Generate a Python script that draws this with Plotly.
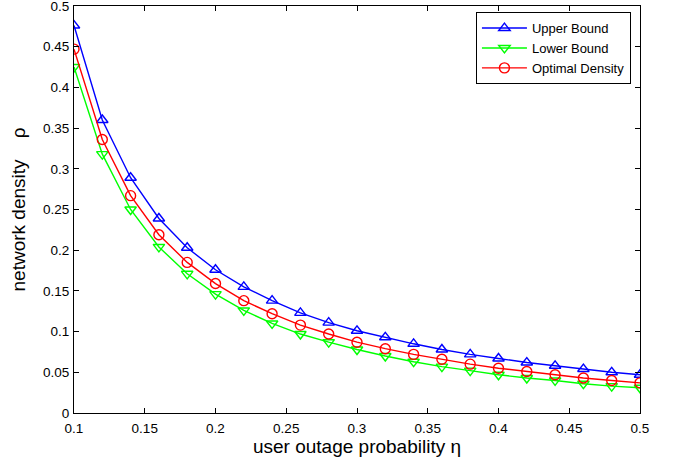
import plotly.graph_objects as go

# user outage probability (x axis)
eta = [0.10, 0.12, 0.14, 0.16, 0.18, 0.20, 0.22, 0.24, 0.26, 0.28, 0.30,
       0.32, 0.34, 0.36, 0.38, 0.40, 0.42, 0.44, 0.46, 0.48, 0.50]

upper_bound = [0.476, 0.360, 0.289, 0.239, 0.203, 0.176, 0.155, 0.138, 0.123, 0.111, 0.101,
               0.093, 0.085, 0.078, 0.072, 0.067, 0.062, 0.058, 0.054, 0.050, 0.047]
lower_bound = [0.425, 0.318, 0.250, 0.204, 0.171, 0.146, 0.126, 0.110, 0.097, 0.087, 0.078,
               0.070, 0.063, 0.057, 0.052, 0.047, 0.043, 0.040, 0.036, 0.033, 0.031]
optimal_density = [0.447, 0.336, 0.267, 0.219, 0.185, 0.159, 0.138, 0.122, 0.108, 0.097, 0.087,
                   0.079, 0.072, 0.066, 0.060, 0.055, 0.051, 0.047, 0.043, 0.040, 0.037]

x_ticks = [0.1, 0.15, 0.2, 0.25, 0.3, 0.35, 0.4, 0.45, 0.5]
y_ticks = [0, 0.05, 0.1, 0.15, 0.2, 0.25, 0.3, 0.35, 0.4, 0.45, 0.5]

FONT = "Liberation Sans, Arial, Helvetica, sans-serif"

series = [
    ("Upper Bound", upper_bound, "#0000ff", "triangle-up-open"),
    ("Lower Bound", lower_bound, "#00ff00", "triangle-down-open"),
    ("Optimal Density", optimal_density, "#ff0000", "circle-open"),
]

fig = go.Figure()
for name, vals, color, symbol in series:
    fig.add_trace(go.Scatter(
        x=eta, y=vals, name=name, mode="lines+markers",
        line=dict(color=color, width=1.4),
        marker=dict(symbol=symbol, size=10, color=color, line=dict(width=1.4, color=color)),
    ))

axis_common = dict(
    showgrid=False, zeroline=False, showline=True, linecolor="black", linewidth=1.2,
    mirror="ticks", ticks="inside", ticklen=5, tickcolor="black", tickwidth=1,
    tickfont=dict(family=FONT, size=13.5, color="black"),
    ticklabeloverflow="allow", automargin=False,
)

fig.update_layout(
    width=680, height=462,
    margin=dict(l=74, r=40, t=6, b=49, autoexpand=False),
    paper_bgcolor="white", plot_bgcolor="white",
    font=dict(family=FONT, color="black"),
    xaxis=dict(range=[0.1, 0.5], tickvals=x_ticks, ticktext=[f"{v:g}" for v in x_ticks],
               ticklabelstandoff=3,
               title=dict(text="user outage probability η", font=dict(size=19), standoff=4),
               **axis_common),
    yaxis=dict(range=[0, 0.5], tickvals=y_ticks, ticktext=[f"{v:g}" for v in y_ticks],
               ticklabelstandoff=1,
               title=dict(text="network density    ρ", font=dict(size=19), standoff=12),
               **axis_common),
    legend=dict(x=0.984, y=0.985, xanchor="right", yanchor="top",
                bgcolor="white", bordercolor="black", borderwidth=1,
                font=dict(family=FONT, size=13), tracegroupgap=0,
                itemwidth=45),
    showlegend=True,
)

fig.write_html("out.html")
